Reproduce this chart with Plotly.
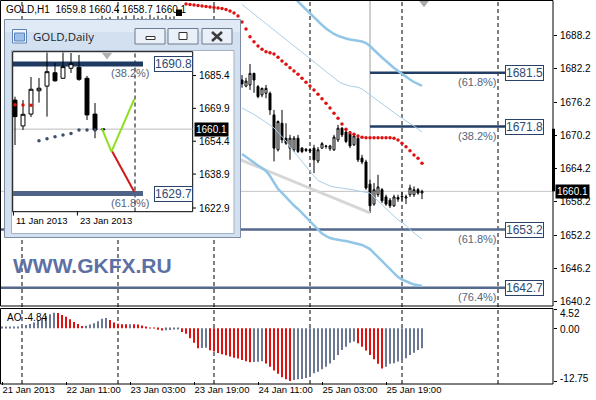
import plotly.graph_objects as go

W, H = 596, 400


def px(x):
    return x / W


def py(y):
    return 1 - y / H


# ---------------------------------------------------------------- H1 chart
# x is the hourly bar index (bar 0 = first labelled bar)
h1_bar = list(range(24, 106))
h1_open = [
    1689.8, 1690.5, 1690.9, 1690.6, 1690.2, 1689.7, 1690.3, 1690.9, 1690.6, 1690.9,
    1691.0, 1690.5, 1690.9, 1690.6, 1691.0, 1690.7, 1690.9, 1690.5, 1690.8, 1690.6,
    1690.4, 1690.2, 1690.0, 1689.3, 1688.4, 1687.6, 1687.9, 1687.1, 1686.0, 1685.4,
    1685.8, 1684.5, 1683.2, 1682.5, 1681.8, 1681.0, 1680.2, 1679.1, 1679.3, 1681.4,
    1679.0, 1677.5, 1677.8, 1677.8, 1673.9, 1667.6, 1672.4, 1669.7, 1667.9, 1667.6,
    1669.7, 1667.9, 1667.7, 1667.6, 1667.9, 1665.6, 1667.9, 1668.3, 1667.8, 1667.6,
    1669.4, 1671.5, 1670.8, 1670.5, 1668.5, 1669.7, 1666.1, 1665.4, 1661.4, 1657.8,
    1659.5, 1660.4, 1659.1, 1658.5, 1657.5, 1659.0, 1659.1, 1658.9, 1659.5, 1659.5,
    1660.4, 1659.8]
h1_high = [
    1691.3, 1691.8, 1691.4, 1691.6, 1690.9, 1690.6, 1691.5, 1691.8, 1691.2, 1691.9,
    1691.4, 1691.7, 1691.3, 1692.0, 1691.5, 1691.8, 1691.4, 1691.9, 1691.6, 1691.7,
    1691.0, 1690.9, 1690.7, 1689.9, 1689.1, 1688.3, 1688.6, 1687.7, 1686.8, 1686.2,
    1686.5, 1685.1, 1684.0, 1683.4, 1682.6, 1681.9, 1681.1, 1680.6, 1683.1, 1681.5,
    1679.3, 1678.8, 1679.3, 1678.1, 1674.8, 1672.9, 1674.8, 1672.4, 1670.3, 1670.1,
    1670.3, 1668.1, 1667.9, 1667.9, 1668.5, 1668.1, 1669.0, 1668.5, 1668.5, 1670.3,
    1672.1, 1671.7, 1671.2, 1671.0, 1670.6, 1670.3, 1666.7, 1665.8, 1662.2, 1661.6,
    1663.1, 1660.7, 1659.5, 1658.9, 1659.5, 1659.5, 1660.0, 1659.5, 1661.3, 1661.0,
    1660.7, 1660.4]
h1_low = [
    1689.2, 1690.0, 1690.2, 1689.9, 1689.3, 1688.9, 1690.0, 1690.4, 1690.0, 1690.5,
    1690.3, 1690.1, 1690.2, 1690.3, 1690.4, 1690.2, 1690.3, 1690.1, 1690.2, 1690.0,
    1689.9, 1689.6, 1688.9, 1688.0, 1687.2, 1686.5, 1686.8, 1685.6, 1684.9, 1684.3,
    1684.0, 1682.8, 1681.9, 1681.2, 1680.3, 1679.6, 1678.8, 1678.9, 1678.4, 1677.9,
    1676.9, 1677.1, 1676.9, 1673.9, 1665.5, 1667.3, 1668.8, 1668.5, 1665.8, 1667.2,
    1667.0, 1667.0, 1667.2, 1667.0, 1663.4, 1665.2, 1667.8, 1667.8, 1667.4, 1667.4,
    1669.0, 1669.9, 1668.8, 1667.9, 1668.3, 1665.4, 1665.0, 1660.4, 1656.2, 1657.5,
    1659.1, 1658.0, 1657.5, 1657.1, 1657.3, 1658.2, 1658.4, 1657.8, 1659.1, 1659.1,
    1659.5, 1658.7]
h1_close = [
    1690.5, 1690.9, 1690.6, 1690.2, 1689.7, 1690.3, 1690.9, 1690.6, 1690.9, 1691.0,
    1690.5, 1690.9, 1690.6, 1691.0, 1690.7, 1690.9, 1690.5, 1690.8, 1690.6, 1690.4,
    1690.2, 1690.0, 1689.3, 1688.4, 1687.6, 1687.9, 1687.1, 1686.0, 1685.4, 1685.8,
    1684.5, 1683.2, 1682.5, 1681.8, 1681.0, 1680.2, 1679.5, 1680.0, 1681.4, 1680.2,
    1677.2, 1678.7, 1678.7, 1674.8, 1667.9, 1672.7, 1669.4, 1668.8, 1669.7, 1669.7,
    1667.3, 1667.3, 1667.5, 1667.4, 1665.8, 1667.6, 1668.7, 1668.2, 1668.3, 1669.9,
    1671.5, 1670.3, 1669.1, 1668.3, 1670.1, 1665.8, 1665.4, 1660.7, 1657.5, 1660.4,
    1660.9, 1658.4, 1657.8, 1657.5, 1659.1, 1658.7, 1659.2, 1659.1, 1660.7, 1660.4,
    1659.8, 1660.1]

# red dotted indicator
dots_bar = list(range(46, 106))
dots_val = [
    1693.92, 1693.83, 1693.74, 1693.65, 1693.56, 1693.47, 1693.38, 1693.29, 1693.20, 1693.11,
    1692.93, 1692.66, 1692.30, 1691.76, 1690.67, 1689.41, 1688.02, 1687.12, 1686.34, 1685.75,
    1685.31, 1685.13, 1684.90, 1684.30, 1683.63, 1683.04, 1682.42, 1681.83, 1681.23, 1680.51,
    1679.79, 1679.12, 1678.40, 1677.62, 1676.83, 1676.00, 1675.15, 1674.19, 1673.29, 1672.26,
    1671.30, 1670.69, 1670.40, 1670.09, 1669.86, 1669.79, 1669.79, 1669.79, 1669.79, 1669.79,
    1669.79, 1669.79, 1669.68, 1669.37, 1668.78, 1668.16, 1667.44, 1666.67, 1666.07, 1665.17]

# light blue channel lines
band_bar = list(range(60, 106))
band_up_thin = [
    1693.83, 1693.25, 1692.68, 1692.12, 1691.54, 1690.96, 1690.40, 1689.82, 1689.25, 1688.69,
    1688.11, 1687.53, 1686.95, 1686.39, 1685.82, 1685.26, 1684.68, 1684.10, 1683.51, 1682.91,
    1682.32, 1681.74, 1681.14, 1680.56, 1680.02, 1679.57, 1679.30, 1679.12, 1678.99, 1678.89,
    1678.58, 1678.04, 1677.50, 1676.95, 1676.41, 1675.87, 1675.33, 1674.79, 1674.25, 1673.79,
    1673.34, 1672.80, 1672.35, 1671.90, 1671.36, 1670.82]
band_lo_thin = [
    1675.15, 1674.79, 1674.34, 1673.98, 1673.52, 1673.07, 1672.62, 1672.08, 1671.54, 1670.82,
    1670.09, 1669.19, 1668.11, 1667.21, 1666.30, 1665.49, 1664.68, 1663.78, 1662.87, 1662.06,
    1661.70, 1661.34, 1661.07, 1660.89, 1660.80, 1660.71, 1660.62, 1660.44, 1660.35, 1660.17,
    1660.08, 1659.90, 1659.81, 1659.08, 1658.36, 1657.64, 1656.92, 1656.19, 1655.56, 1654.93,
    1654.57, 1653.85, 1653.13, 1652.59, 1652.04, 1651.50]
band_lo_thick = [
    1666.84, 1666.30, 1665.76, 1665.22, 1664.77, 1664.32, 1663.78, 1662.87, 1661.61, 1660.53,
    1659.81, 1659.08, 1658.18, 1657.55, 1656.92, 1656.19, 1655.47, 1654.66, 1653.85, 1653.13,
    1652.49, 1652.04, 1651.68, 1651.50, 1651.32, 1651.23, 1651.14, 1650.96, 1650.87, 1650.69,
    1650.42, 1650.06, 1649.69, 1648.97, 1648.25, 1647.35, 1646.63, 1645.91, 1645.27, 1644.64,
    1644.19, 1643.83, 1643.56, 1643.29, 1643.11, 1643.02]
band_up_thick_bar = list(range(70, 106))
band_up_thick = [
    1697.17, 1696.45, 1695.73, 1695.01, 1694.28, 1693.74, 1693.02, 1692.30, 1691.58, 1690.85,
    1690.13, 1689.50, 1688.96, 1688.51, 1688.15, 1687.88, 1687.69, 1687.51, 1687.42, 1687.33,
    1687.15, 1686.88, 1686.34, 1685.62, 1684.89, 1684.26, 1683.63, 1682.91, 1682.37, 1681.83,
    1681.29, 1680.74, 1680.29, 1679.84, 1679.48, 1679.12]

trend_bar = [58, 92]
trend_val = [1666.3, 1656.2]
vline_bar, vline_low = 92, 1656.2
shift_bar = 105.5

fib_levels = [1681.5, 1671.8, 1653.2, 1642.7]
fib_pct = ["(61.8%)", "(38.2%)", "(61.8%)", "(76.4%)"]
fib_start = [92, 92, -0.5, -0.5]
fib_end = 125.75
fib_colors = ["#223e64", "#223e64", "#55698b", "#55698b"]

last_price = 1660.1
bar_range = [1660.1, 1671.4]
price_ticks = [1640.2, 1646.2, 1652.2, 1658.2, 1664.2, 1670.2, 1676.2, 1682.2, 1688.2]

day_separators = [5, 29, 53, 77, 100, 124]
time_tick_bar = [0, 16, 32, 48, 64, 80, 96]
time_tick_text = ["21 Jan 2013", "22 Jan 11:00", "23 Jan 03:00", "23 Jan 19:00",
                  "24 Jan 11:00", "25 Jan 03:00", "25 Jan 19:00"]

# Awesome Oscillator
ao_bar = list(range(0, 106))
ao_values = [
    0.20, 0.25, 0.30, 0.35, 0.40, 0.55, 0.80, 1.05, 1.40, 1.85,
    2.40, 3.00, 3.40, 3.75, 3.70, 3.20, 2.80, 2.20, 1.55, 1.05,
    0.55, 0.60, 0.90, 1.20, 1.70, 2.30, 2.50, 2.00, 1.40, 1.10,
    1.00, 0.95, 1.00, 0.98, 0.90, 0.70, 0.40, 0.15, -0.05, -0.35,
    -0.55, -0.45, -0.40, -0.30, -0.20, -0.90, -1.30, -2.40, -3.50, -4.80,
    -4.75, -4.70, -5.30, -5.60, -6.00, -6.30, -6.50, -6.85, -7.10, -7.30,
    -7.65, -8.00, -8.20, -8.15, -8.10, -8.00, -8.50, -9.30, -10.20, -11.00,
    -11.85, -12.30, -12.75, -12.50, -12.35, -12.25, -12.00, -11.30, -10.90, -10.50,
    -9.90, -9.30, -8.50, -7.70, -6.45, -5.25, -4.45, -3.50, -3.20, -3.60,
    -4.45, -5.40, -6.45, -7.50, -8.60, -9.70, -9.30, -8.60, -8.45, -8.05,
    -7.65, -7.25, -6.45, -5.90, -5.25, -4.84]
ao_ticks = [4.52, 0.0, -12.75]

# ---------------------------------------------------------------- daily inset
d1_day = list(range(12))
d1_open = [1673.8, 1661.6, 1667.2, 1678.2, 1680.4, 1686.7, 1684.1, 1688.8, 1689.3, 1684.1, 1667.2, 1659.8]
d1_high = [1675.4, 1673.8, 1684.7, 1684.2, 1696.2, 1691.4, 1696.2, 1696.0, 1695.1, 1685.2, 1672.4, 1660.5]
d1_low = [1652.6, 1659.7, 1665.8, 1672.6, 1666.0, 1682.5, 1683.9, 1686.6, 1682.9, 1664.4, 1655.8, 1658.7]
d1_close = [1666.0, 1667.1, 1678.9, 1679.4, 1687.2, 1682.9, 1689.6, 1691.0, 1683.6, 1666.8, 1659.7, 1660.1]

d1_red_dot_day = [0, 1, 2]
d1_red_dot_val = [1671.6, 1671.5, 1671.4]
d1_blue_dot_day = [3, 4, 5, 6, 7, 8, 9, 10]
d1_blue_dot_val = [1654.6, 1655.6, 1656.5, 1657.3, 1658.1, 1659.7, 1659.7, 1659.7]

zz_green_day = [10.85, 12.05, 14.9]
zz_green_val = [1660.5, 1649.5, 1674.2]
zz_red_day = [12.05, 14.9]
zz_red_val = [1650.3, 1630.6]

d1_fib_levels = [1690.8, 1629.7]
d1_fib_pct = ["(38.2%)", "(61.8%)"]
d1_fib_colors = ["#1f3a60", "#4f6389"]
d1_fib_end = 16
d1_price_ticks = [1685.4, 1669.9, 1654.4, 1638.9, 1622.9]
d1_date_day = [0, 8]
d1_date_text = ["11 Jan 2013", "23 Jan 2013"]
d1_separator_day = 15
d1_shift_day = 11.5

# inset pixel mapping (window chrome is laid out in pixels)
INSET_DAY0_PX, INSET_DAY_PX = 15.0, 8.0
INSET_REF_PRICE, INSET_REF_PX, INSET_PX_PER_UNIT = 1685.4, 75.5, 2.12


def ix(x):
    return (x - INSET_DAY0_PX) / INSET_DAY_PX


def iy(y):
    return INSET_REF_PRICE - (y - INSET_REF_PX) / INSET_PX_PER_UNIT


# main panel scale
MAIN_RIGHT, MAIN_BOTTOM = 553, 306
P_TOP, P_BOTTOM = 1694.64, 1639.41
X_RANGE = [-0.5, 137.75]
AO_TOP_PX, AO_BOTTOM_PX = 309.6, 381

FONT = "Liberation Sans, Arial, sans-serif"
RED = "#e01010"
SLATE = "#6b7894"
THICK_BLUE = "#92c6e8"
THIN_BLUE = "#a9cfe8"

fig = go.Figure()

fig.add_trace(go.Scatter(x=trend_bar, y=trend_val, mode="lines",
                         line=dict(color="#d6d6d6", width=3), hoverinfo="skip"))
for xs, ys, w, c in [(band_bar, band_up_thin, 1, THIN_BLUE),
                     (band_bar, band_lo_thin, 1, THIN_BLUE),
                     (band_bar, band_lo_thick, 2.5, THICK_BLUE),
                     (band_up_thick_bar, band_up_thick, 2.5, THICK_BLUE)]:
    fig.add_trace(go.Scatter(x=xs, y=ys, mode="lines", line=dict(color=c, width=w),
                             hoverinfo="skip"))
fig.add_trace(go.Candlestick(
    x=h1_bar, open=h1_open, high=h1_high, low=h1_low, close=h1_close,
    increasing=dict(line=dict(color="black", width=1), fillcolor="white"),
    decreasing=dict(line=dict(color="black", width=1), fillcolor="black"),
    hoverinfo="skip"))
fig.add_trace(go.Scatter(x=dots_bar, y=dots_val, mode="markers",
                         marker=dict(color=RED, size=3.5), hoverinfo="skip"))
fig.add_trace(go.Scatter(x=[shift_bar], y=[P_TOP - 0.5], mode="markers",
                         marker=dict(symbol="triangle-down", color="#a8a8a8", size=9),
                         cliponaxis=False, hoverinfo="skip"))

# AO histogram: slate when rising, red when falling
ao_colors = [SLATE if i == 0 or v > ao_values[i - 1] else RED for i, v in enumerate(ao_values)]
fig.add_trace(go.Bar(x=ao_bar, y=ao_values, width=0.3, xaxis="x2", yaxis="y2",
                     marker=dict(color=ao_colors, line=dict(width=0)), hoverinfo="skip"))

# inset traces
fig.add_trace(go.Candlestick(
    x=d1_day, open=d1_open, high=d1_high, low=d1_low, close=d1_close,
    xaxis="x3", yaxis="y3",
    increasing=dict(line=dict(color="black", width=1), fillcolor="white"),
    decreasing=dict(line=dict(color="black", width=1), fillcolor="black"),
    hoverinfo="skip"))
fig.add_trace(go.Scatter(x=d1_red_dot_day, y=d1_red_dot_val, mode="markers", xaxis="x3", yaxis="y3",
                         marker=dict(color=RED, size=3.5), hoverinfo="skip"))
fig.add_trace(go.Scatter(x=d1_blue_dot_day, y=d1_blue_dot_val, mode="markers", xaxis="x3", yaxis="y3",
                         marker=dict(color="#3d4f6e", size=3.5), hoverinfo="skip"))
fig.add_trace(go.Scatter(x=zz_red_day, y=zz_red_val, mode="lines", xaxis="x3", yaxis="y3",
                         line=dict(color="#d01818", width=2), hoverinfo="skip"))
fig.add_trace(go.Scatter(x=zz_green_day, y=zz_green_val, mode="lines", xaxis="x3", yaxis="y3",
                         line=dict(color="#8ee020", width=2), hoverinfo="skip"))
fig.add_trace(go.Scatter(x=[d1_shift_day], y=[iy(55)], mode="markers", xaxis="x3", yaxis="y3",
                         marker=dict(symbol="triangle-down", color="#b0b0b0", size=9),
                         hoverinfo="skip"))

shapes = []
# main panel objects
shapes.append(dict(type="line", xref="x", yref="y", x0=X_RANGE[0], x1=X_RANGE[1],
                   y0=last_price, y1=last_price, line=dict(color="#c4c4c4", width=1), layer="below"))
shapes.append(dict(type="line", xref="x", yref="y", x0=vline_bar, x1=vline_bar,
                   y0=vline_low, y1=P_TOP, line=dict(color="#cdcdcd", width=2), layer="below"))
for lvl, x0, c in zip(fib_levels, fib_start, fib_colors):
    shapes.append(dict(type="line", xref="x", yref="y", x0=x0, x1=fib_end, y0=lvl, y1=lvl,
                       line=dict(color=c, width=2.5), layer="below"))
for b in day_separators:
    shapes.append(dict(type="line", xref="x", yref="paper", x0=b, x1=b, y0=py(384), y1=1,
                       line=dict(color="black", width=1, dash="4px,3px"), layer="below"))
shapes.append(dict(type="line", xref="paper", yref="y", x0=px(553.5), x1=px(553.5),
                   y0=bar_range[0], y1=bar_range[1], line=dict(color="black", width=3)))
shapes.append(dict(type="rect", xref="paper", yref="paper", x0=px(176), x1=px(182),
                   y0=py(16), y1=py(9.5), fillcolor="black", line=dict(width=0), layer="above"))
shapes.append(dict(type="rect", xref="paper", yref="paper", x0=px(0.5), x1=px(MAIN_RIGHT),
                   y0=py(MAIN_BOTTOM), y1=py(0.5), line=dict(color="black", width=1), layer="above"))
shapes.append(dict(type="rect", xref="paper", yref="paper", x0=px(0.5), x1=px(MAIN_RIGHT),
                   y0=py(384), y1=py(308.5), line=dict(color="black", width=1), layer="above"))


def irect(x0, y0, x1, y1, fill, line_color, lw=1):
    return dict(type="rect", xref="x3", yref="y3", x0=ix(x0), x1=ix(x1), y0=iy(y1), y1=iy(y0),
                fillcolor=fill, line=dict(color=line_color, width=lw), layer="below")


def iline(x0, y0, x1, y1, color, lw=1, dash=None):
    return dict(type="line", xref="x3", yref="y3", x0=ix(x0), x1=ix(x1), y0=iy(y0), y1=iy(y1),
                line=dict(color=color, width=lw, dash=dash), layer="below")


# inset window chrome
shapes.append(irect(4.5, 19.5, 240.5, 237.5, "#d3e0ef", "#7d8ca2"))
shapes.append(irect(5, 20, 240, 32, "#e0eaf6", "#e0eaf6", 0))
shapes.append(irect(11.5, 50.5, 234, 233.5, "white", "#a3b1c4"))
shapes.append(irect(12.5, 29.5, 26.5, 43, "#f4f8fd", "#5a82b8"))
shapes.append(irect(14.5, 33, 24.5, 41, "#9cc0ea", "#5a82b8"))
for bx0 in (135, 168, 202):
    shapes.append(irect(bx0, 28.5, bx0 + 30, 44, "#e9f0f8", "#6c7a8e"))
shapes.append(irect(146, 36.5, 155, 39.5, "white", "#333333"))
shapes.append(irect(179, 32.5, 187, 39.5, "white", "#333333"))
shapes.append(iline(212, 32, 222, 41, "#3a3a3a", 2.5))
shapes.append(iline(222, 32, 212, 41, "#3a3a3a", 2.5))
shapes.append(irect(12.7, 51.7, 192.7, 211.7, "white", "black"))
shapes.append(dict(type="line", xref="x3", yref="y3", x0=ix(13), x1=ix(192.5),
                   y0=last_price, y1=last_price, line=dict(color="#bdbdbd", width=1), layer="below"))
shapes.append(dict(type="line", xref="x3", yref="y3", x0=d1_separator_day, x1=d1_separator_day,
                   y0=iy(211.5), y1=iy(52), line=dict(color="black", width=1, dash="4px,3px"),
                   layer="below"))
for lvl, c in zip(d1_fib_levels, d1_fib_colors):
    shapes.append(dict(type="line", xref="x3", yref="y3", x0=ix(13), x1=d1_fib_end, y0=lvl, y1=lvl,
                       line=dict(color=c, width=5), layer="below"))
for v in d1_price_ticks:
    shapes.append(dict(type="line", xref="x3", yref="y3", x0=ix(193), x1=ix(196), y0=v, y1=v,
                       line=dict(color="black", width=1), layer="below"))
for d in d1_date_day:
    shapes.append(dict(type="line", xref="x3", yref="y3", x0=d - 0.2, x1=d - 0.2,
                       y0=iy(211.7), y1=iy(215.5), line=dict(color="black", width=1), layer="below"))

ann = []
ann.append(dict(xref="paper", yref="paper", x=px(4), y=py(9.5), xanchor="left", yanchor="middle",
                text="GOLD,H1\u00a0\u00a01659.8 1660.4 1658.7 1660.1", showarrow=False,
                font=dict(size=10, color="black")))
ann.append(dict(xref="paper", yref="paper", x=px(5), y=py(317.5), xanchor="left", yanchor="middle",
                text="AO -4.84", showarrow=False, font=dict(size=10, color="black")))
for v, shift in zip(ao_ticks, [-4, -1, 3]):
    ann.append(dict(xref="paper", yref="y2", x=px(558), y=v, yshift=shift, xanchor="left",
                    yanchor="middle", text=f"{v:.2f}", showarrow=False, font=dict(size=10)))
for v in price_ticks:
    ann.append(dict(xref="paper", yref="y", x=px(557.5), y=v, xanchor="left", yanchor="middle",
                    text=f"{v:.1f}", showarrow=False, font=dict(size=10)))
ann.append(dict(xref="paper", yref="paper", x=px(11), y=py(265), xanchor="left", yanchor="middle",
                text="<b>WWW.GKFX.RU</b>", showarrow=False,
                font=dict(size=21, color="#5d70a4", family=FONT)))
for lvl, pct in zip(fib_levels, fib_pct):
    ann.append(dict(xref="x", yref="y", x=fib_end, y=lvl, xanchor="left", yanchor="middle",
                    text=f"{lvl:.1f}", showarrow=False, bgcolor="white", bordercolor="#2b4268",
                    borderwidth=1, borderpad=0, font=dict(size=12, color="#2f4a72")))
    ann.append(dict(xref="x", yref="y", x=124.2, y=lvl, xanchor="right", yanchor="top", yshift=-1,
                    text=pct, showarrow=False, font=dict(size=11, color="#56647c")))
ann.append(dict(xref="paper", yref="y", x=px(555), y=last_price, xanchor="left", yanchor="middle",
                text=f"{last_price:.1f}", showarrow=False, bgcolor="black", borderpad=1,
                font=dict(size=10, color="white")))

# inset texts
ann.append(dict(xref="x3", yref="y3", x=ix(31), y=iy(36.5), xanchor="left", yanchor="middle",
                text="GOLD,Daily", showarrow=False,
                font=dict(size=11.5, color="#1e1e1e", family="Open Sans, Liberation Sans, sans-serif")))
for v in d1_price_ticks:
    ann.append(dict(xref="x3", yref="y3", x=ix(196.5), y=v, xanchor="left", yanchor="middle",
                    text=f"{v:.1f}", showarrow=False, font=dict(size=10)))
ann.append(dict(xref="x3", yref="y3", x=ix(194), y=last_price, xanchor="left", yanchor="middle",
                text=f"{last_price:.1f}", showarrow=False, bgcolor="black", borderpad=1,
                font=dict(size=10, color="white")))
for lvl, pct in zip(d1_fib_levels, d1_fib_pct):
    ann.append(dict(xref="x3", yref="y3", x=ix(153.5), y=lvl, xanchor="left", yanchor="middle",
                    text=f"{lvl:.1f}", showarrow=False, bgcolor="white", bordercolor="#2b4268",
                    borderwidth=1, borderpad=0, font=dict(size=12, color="#2f4a72")))
    ann.append(dict(xref="x3", yref="y3", x=ix(152), y=lvl, xanchor="right", yanchor="top", yshift=-1,
                    text=pct, showarrow=False, font=dict(size=11, color="#56647c")))
for d, t in zip(d1_date_day, d1_date_text):
    ann.append(dict(xref="x3", yref="y3", x=d - 0.1, y=iy(220.5), xanchor="left", yanchor="middle",
                    text=t, showarrow=False, font=dict(size=9.5)))

fig.update_layout(
    width=W, height=H, margin=dict(l=0, r=0, t=0, b=0),
    paper_bgcolor="white", plot_bgcolor="white", showlegend=False,
    font=dict(family=FONT, size=10, color="black"),
    shapes=shapes, annotations=ann,
    xaxis=dict(domain=[0, px(MAIN_RIGHT)], range=X_RANGE, visible=False,
               rangeslider=dict(visible=False)),
    yaxis=dict(domain=[py(MAIN_BOTTOM), 1], range=[P_BOTTOM, P_TOP], side="right",
               tickvals=price_ticks, ticks="outside", ticklen=3, tickcolor="black",
               showticklabels=False, showgrid=False, zeroline=False, showline=False),
    xaxis2=dict(domain=[0, px(MAIN_RIGHT)], range=X_RANGE, anchor="y2",
                tickvals=time_tick_bar, ticktext=time_tick_text, ticks="outside",
                ticklen=3, tickcolor="black", ticklabelposition="outside right",
                showgrid=False, zeroline=False, showline=False, tickfont=dict(size=9.5)),
    yaxis2=dict(domain=[py(AO_BOTTOM_PX), py(AO_TOP_PX)], range=[-12.75, 4.52], anchor="x2",
                side="right", tickvals=ao_ticks, ticks="outside", ticklen=3, tickcolor="black",
                showticklabels=False, showgrid=False, zeroline=False, showline=False),
    xaxis3=dict(domain=[px(4), px(241)], range=[ix(4), ix(241)], anchor="y3", visible=False,
                rangeslider=dict(visible=False)),
    yaxis3=dict(domain=[py(238), py(19)], range=[iy(238), iy(19)], anchor="x3", visible=False),
)

# the page's default 8px body margin would shift the whole chart
fig.write_html("out.html", config={"displayModeBar": False},
               post_script="document.body.style.margin='0';")
